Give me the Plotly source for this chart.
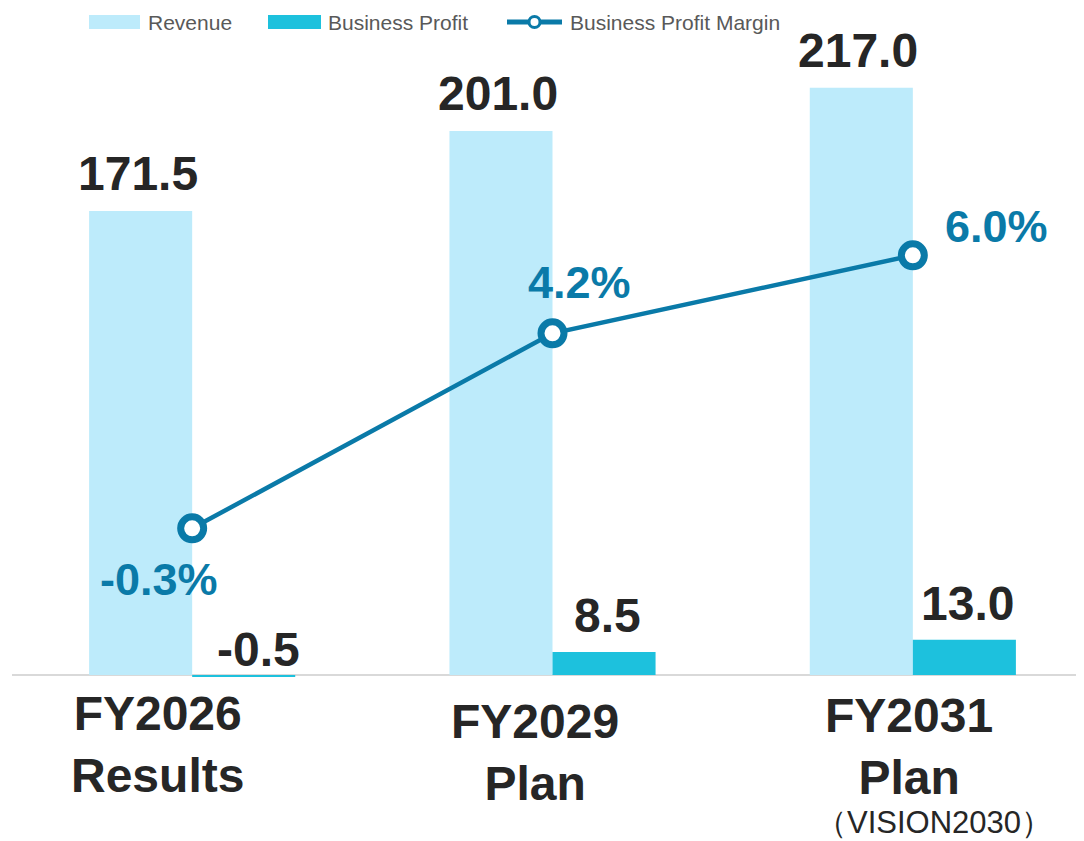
import plotly.graph_objects as go

# ---------------- data ----------------
categories = ["FY2026", "FY2029", "FY2031"]
tick_line1 = ["FY2026", "FY2029", "FY2031"]
tick_line2 = ["Results", "Plan", "Plan"]
tick_sub = ["", "", "（VISION2030）"]
revenue = [171.5, 201.0, 217.0]
profit = [-0.5, 8.5, 13.0]
margin = [-0.3, 4.2, 6.0]
revenue_labels = ["171.5", "201.0", "217.0"]
profit_labels = ["-0.5", "8.5", "13.0"]
margin_labels = ["-0.3%", "4.2%", "6.0%"]
legend_names = ["Revenue", "Business Profit", "Business Profit Margin"]

# ---------------- style ----------------
OFF = 8  # page body margin
W, H = 1084 - OFF, 841 - OFF
ML, MR, MT, MB = 12 - OFF, 0, 40 - OFF, 151
REV_C = "#BDEBFB"
PROF_C = "#1DC1DD"
LINE_C = "#0A7AA8"
TXT_C = "#262626"
LEG_C = "#595959"
FONT = "Arial, Liberation Sans, sans-serif"
BAR_PX = 103  # approx bar width in px

fig = go.Figure()
fig.add_bar(x=categories, y=revenue, marker_color=REV_C, name=legend_names[0],
            offsetgroup="rev", showlegend=False, marker_line_width=0)
fig.add_bar(x=categories, y=profit, marker_color=PROF_C, name=legend_names[1],
            offsetgroup="prof", showlegend=False, marker_line_width=0)
fig.add_scatter(x=categories, y=margin, yaxis="y2", mode="lines+markers",
                name=legend_names[2], showlegend=False,
                line=dict(color=LINE_C, width=4.5),
                marker=dict(symbol="circle", size=23, color="white",
                            line=dict(color=LINE_C, width=7)),
                cliponaxis=False)

ann = []
# revenue labels
for c, v, t in zip(categories, revenue, revenue_labels):
    ann.append(dict(x=c, y=v, xref="x", yref="y", text=t, showarrow=False,
                    xshift=-BAR_PX / 2 - 3, yshift=9, yanchor="bottom",
                    font=dict(family=FONT, size=48, color=TXT_C, weight="bold")))
# profit labels
for c, v, t in zip(categories, profit, profit_labels):
    neg = v < 0
    ann.append(dict(x=c, y=max(v, 0), xref="x", yref="y", text=t, showarrow=False,
                    xshift=BAR_PX / 2 + (15 if neg else 3), yshift=(-3 if neg else 8),
                    yanchor="bottom",
                    font=dict(family=FONT, size=48, color=TXT_C, weight="bold")))
# margin labels
m_off = [(-33, -24, "top"), (27, 23, "bottom"), (84, 1, "bottom")]
for c, v, t, (dx, dy, ya) in zip(categories, margin, margin_labels, m_off):
    ann.append(dict(x=c, y=v, xref="x", yref="y2", text=t, showarrow=False,
                    xshift=dx, yshift=dy, yanchor=ya,
                    font=dict(family=FONT, size=45, color=LINE_C, weight="bold")))
# category labels
t_off = [(-35, -10), (-18, -18), (-4, -12)]
for c, l1, l2, (dx, dy) in zip(categories, tick_line1, tick_line2, t_off):
    ann.append(dict(x=c, y=0, xref="x", yref="y", text=l1 + "<br>" + l2,
                    showarrow=False, xshift=dx, yshift=dy, yanchor="top",
                    font=dict(family=FONT, size=48, color=TXT_C, weight="bold")))
for c, s in zip(categories, tick_sub):
    if s:
        ann.append(dict(x=c, y=0, xref="x", yref="y", text=s, showarrow=False,
                        xshift=21, yshift=-128, yanchor="top",
                        font=dict(family=FONT, size=31, color=TXT_C)))

# ---------------- custom legend (screen pixel positions -> paper) ----------------
PW = W - ML - MR
PH = H - MT - MB


def px(x):
    return (x - OFF - ML) / PW


def py(y):
    return (H - MB - (y - OFF)) / PH


shapes = []
leg_y = 22
shapes.append(dict(type="rect", xref="paper", yref="paper", x0=px(89), x1=px(140),
                   y0=py(29), y1=py(15), fillcolor=REV_C, line_width=0))
shapes.append(dict(type="rect", xref="paper", yref="paper", x0=px(268), x1=px(321),
                   y0=py(29), y1=py(15), fillcolor=PROF_C, line_width=0))
shapes.append(dict(type="line", xref="paper", yref="paper", x0=px(507), x1=px(562),
                   y0=py(leg_y), y1=py(leg_y), line=dict(color=LINE_C, width=5)))
shapes.append(dict(type="circle", xref="paper", yref="paper", x0=px(529), x1=px(540),
                   y0=py(leg_y + 5.5), y1=py(leg_y - 5.5), fillcolor="white",
                   line=dict(color=LINE_C, width=3)))
for xpos, name in zip([146, 326, 568], legend_names):
    ann.append(dict(x=px(xpos), y=py(leg_y), xref="paper", yref="paper", text=name,
                    showarrow=False, xanchor="left", yanchor="middle",
                    font=dict(family=FONT, size=21, color=LEG_C)))

# axis ranges (screen px): y zero at 675px, 2.706 px/unit; y2 zero at 515.3px, 43.33 px/%
y_px_per = 2.706
y0_px = 675 - OFF
y2_px_per = 43.33
y20_px = 515.3 - OFF
plot_bottom = H - MB
yr = [-(plot_bottom - y0_px) / y_px_per, (y0_px - MT) / y_px_per]
y2r = [-(plot_bottom - y20_px) / y2_px_per, (y20_px - MT) / y2_px_per]

fig.update_layout(
    width=W, height=H, margin=dict(l=ML, r=MR, t=MT, b=MB, pad=0),
    paper_bgcolor="white", plot_bgcolor="white",
    barmode="group", bargap=0.428, bargroupgap=0,
    showlegend=False,
    xaxis=dict(type="category", range=[-0.5, 2.475], showticklabels=False,
               showgrid=False, zeroline=False, showline=False, ticks=""),
    yaxis=dict(range=yr, showticklabels=False, showgrid=False, zeroline=True,
               zerolinecolor="#D9D9D9", zerolinewidth=2, showline=False, ticks=""),
    yaxis2=dict(range=y2r, overlaying="y", visible=False),
    annotations=ann, shapes=shapes,
)

fig.write_html("out.html")
